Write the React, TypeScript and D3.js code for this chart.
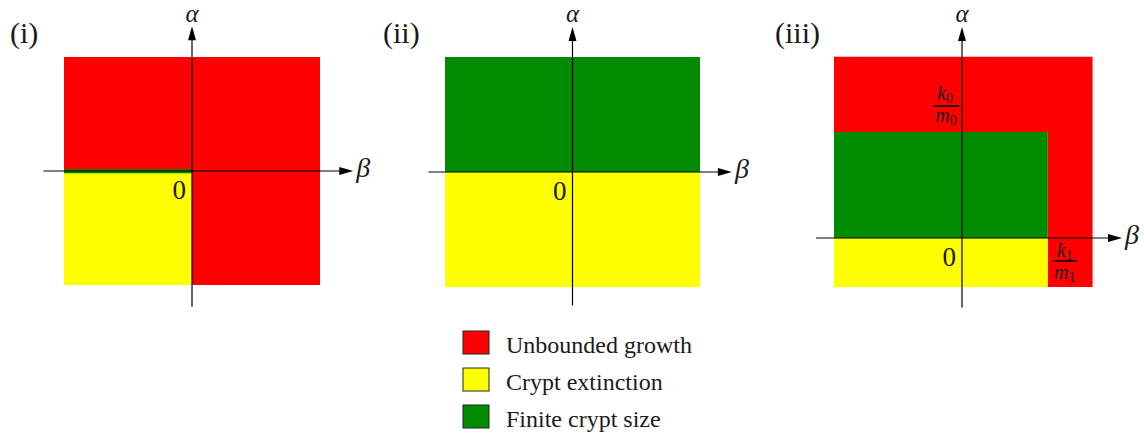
import React from "react";
import * as d3 from "d3";

// Regime legend
const regimeNames = ["Unbounded growth", "Crypt extinction", "Finite crypt size"];
const regimeColors = ["#ff0000", "#ffff00", "#008b00"];

// Panel titles
const panelLabels = ["(i)", "(ii)", "(iii)"];

// Regions per panel: [beta0, beta1, alpha0, alpha1, regime index]
const regionsI: [number, number, number, number, number][] = [
  [-1, 1, 0, 1, 0],
  [0, 1, -1, 0, 0],
  [-1, 0, -1, 0, 1],
  [-1, 0, -0.02, 0.016, 2],
];
const regionsII: [number, number, number, number, number][] = [
  [-1, 1, 0, 1, 2],
  [-1, 1, -1, 0, 1],
];
// Thresholds for panel (iii)
const k1m1 = 0.67;
const k0m0 = 0.93;
const regionsIII: [number, number, number, number, number][] = [
  [-1, 1.02, k0m0, 1.59, 0],
  [k1m1, 1.02, -0.43, k0m0, 0],
  [-1, k1m1, 0, k0m0, 2],
  [-1, k1m1, -0.43, 0, 1],
];

type Panel = {
  regions: [number, number, number, number, number][];
  xDomain: [number, number];
  xRange: [number, number];
  yDomain: [number, number];
  yRange: [number, number];
  betaExtent: [number, number];
  alphaExtent: [number, number];
  label: string;
  labelX: number;
};

const panels: Panel[] = [
  {
    regions: regionsI,
    xDomain: [-1, 1], xRange: [64, 320],
    yDomain: [-1, 1], yRange: [285, 57],
    betaExtent: [-1.16, 1.26], alphaExtent: [-1.19, 1.27],
    label: panelLabels[0], labelX: 10,
  },
  {
    regions: regionsII,
    xDomain: [-1, 1], xRange: [445, 700],
    yDomain: [-1, 1], yRange: [287, 57],
    betaExtent: [-1.13, 1.25], alphaExtent: [-1.16, 1.26],
    label: panelLabels[1], labelX: 383,
  },
  {
    regions: regionsIII,
    xDomain: [-1, 1], xRange: [834, 1090],
    yDomain: [0, 1], yRange: [238, 124],
    betaExtent: [-1.14, 1.25], alphaExtent: [-0.61, 1.85],
    label: panelLabels[2], labelX: 775,
  },
];

const serif = "Liberation Serif, DejaVu Serif, serif";
const ink = "#1a1a1a";

function PanelView({ p, idx }: { p: Panel; idx: number }) {
  const x = d3.scaleLinear().domain(p.xDomain).range(p.xRange);
  const y = d3.scaleLinear().domain(p.yDomain).range(p.yRange);
  const x0 = x(0);
  const y0 = y(0);
  const bx = x(p.betaExtent[1]);
  const ay = y(p.alphaExtent[1]);
  const head = 14;
  const hw = 4;
  return (
    <g>
      {p.regions.map((r, i) => (
        <rect
          key={i}
          x={x(r[0])}
          y={y(r[3])}
          width={x(r[1]) - x(r[0])}
          height={y(r[2]) - y(r[3])}
          fill={regimeColors[r[4]]}
        />
      ))}
      {/* beta axis */}
      <line x1={x(p.betaExtent[0])} x2={bx - head + 1} y1={y0} y2={y0} stroke="#000" strokeWidth={1.2} />
      <path d={`M${bx},${y0} L${bx - head},${y0 - hw} L${bx - head},${y0 + hw} Z`} fill="#000" />
      {/* alpha axis */}
      <line x1={x0} x2={x0} y1={y(p.alphaExtent[0])} y2={ay + head - 1} stroke="#000" strokeWidth={1.2} />
      <path d={`M${x0},${ay} L${x0 - hw},${ay + head} L${x0 + hw},${ay + head} Z`} fill="#000" />
      <text x={bx + 3} y={y0 + 6} fontFamily={serif} fontStyle="italic" fontSize={28} fill={ink}>β</text>
      <text x={x0} y={22} textAnchor="middle" fontFamily={serif} fontStyle="italic" fontSize={25} fill={ink}>α</text>
      <text x={x0 - 6} y={y0 + 28} textAnchor="end" fontFamily={serif} fontSize={27} fill={ink}>0</text>
      <text x={p.labelX} y={43} fontFamily={serif} fontSize={30} fill={ink}>{p.label}</text>
      {idx === 2 && (
        <g fontFamily={serif} fontStyle="italic" fontSize={20} fill={ink}>
          {/* k0/m0 on the alpha axis */}
          <text x={x0 - 17} y={y(k0m0) - 32} textAnchor="middle">
            k<tspan fontStyle="normal" fontSize={14} dy={3}>0</tspan>
          </text>
          <line x1={x0 - 29} x2={x0 - 3} y1={y(k0m0) - 26} y2={y(k0m0) - 26} stroke="#000" strokeWidth={1.6} />
          <text x={x0 - 16} y={y(k0m0) - 10} textAnchor="middle">
            m<tspan fontStyle="normal" fontSize={14} dy={3}>0</tspan>
          </text>
          {/* k1/m1 on the beta axis */}
          <text x={x(k1m1) + 17} y={y0 + 19} textAnchor="middle">
            k<tspan fontStyle="normal" fontSize={14} dy={3}>1</tspan>
          </text>
          <line x1={x(k1m1) + 5} x2={x(k1m1) + 29} y1={y0 + 23} y2={y0 + 23} stroke="#000" strokeWidth={1.6} />
          <text x={x(k1m1) + 17} y={y0 + 41} textAnchor="middle">
            m<tspan fontStyle="normal" fontSize={14} dy={3}>1</tspan>
          </text>
        </g>
      )}
    </g>
  );
}

export default function App() {
  const legendY = d3.scaleBand<number>().domain(d3.range(regimeNames.length)).range([331, 442]).paddingInner(0);
  return (
    <svg width={1144} height={435} style={{ position: "absolute", left: 0, top: 0, background: "#fff" }}>
      <rect width={1144} height={435} fill="#fff" />
      {panels.map((p, i) => (
        <PanelView key={i} p={p} idx={i} />
      ))}
      {regimeNames.map((name, i) => (
        <g key={name}>
          <rect x={463} y={legendY(i)!} width={26} height={23} fill={regimeColors[i]} stroke="#222" strokeWidth={1} />
          <text x={506} y={legendY(i)! + 22} fontFamily={serif} fontSize={24} fill={ink}>{name}</text>
        </g>
      ))}
    </svg>
  );
}
